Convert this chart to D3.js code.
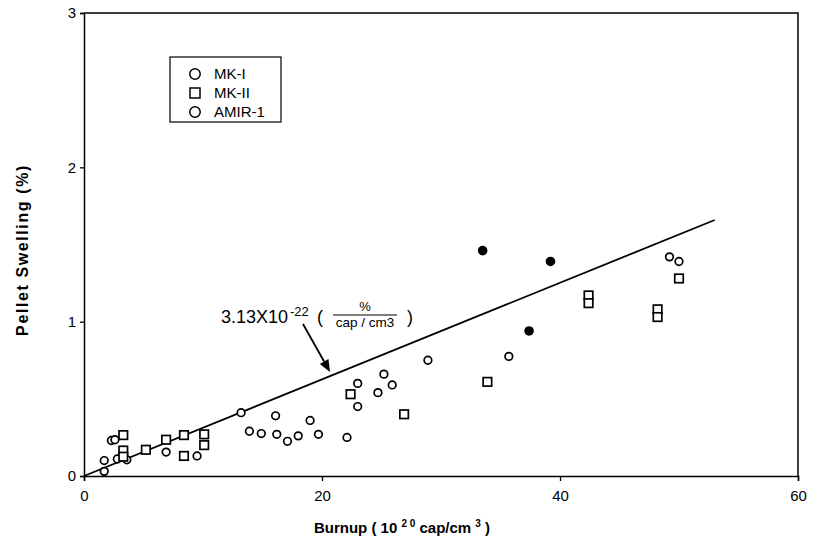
<!DOCTYPE html>
<html>
<head>
<meta charset="utf-8">
<script src="https://cdn.jsdelivr.net/npm/d3@7"></script>
<style>
  html, body { margin: 0; padding: 0; background: #fff; }
  svg { display: block; font-family: "Liberation Sans", Arial, Helvetica, sans-serif; }
</style>
</head>
<body>
<svg id="chart" width="815" height="547"></svg>
<script>
// ---- data ----
const xTicks = [0, 20, 40, 60];
const yTicks = [0, 1, 2, 3];
const legendLabels = ["MK-I", "MK-II", "AMIR-1"];

// MK-I (open circles): [burnup, swelling]
const mk1 = [
  [1.7, 0.03], [1.7, 0.10], [2.3, 0.23], [2.6, 0.235], [2.8, 0.11], [3.6, 0.105],
  [6.9, 0.155], [9.5, 0.13], [13.2, 0.41], [13.9, 0.29], [14.9, 0.275], [16.1, 0.39],
  [16.2, 0.27], [17.1, 0.225], [18.0, 0.26], [19.0, 0.36], [19.7, 0.27], [22.1, 0.25],
  [23.0, 0.60], [23.0, 0.45], [24.7, 0.54], [25.2, 0.66], [25.9, 0.59], [28.9, 0.75],
  [35.7, 0.775], [49.2, 1.42], [50.0, 1.39]
];
// MK-II (open squares)
const mk2 = [
  [3.3, 0.265], [3.3, 0.165], [3.3, 0.125], [5.2, 0.17], [6.9, 0.235], [8.4, 0.265],
  [8.4, 0.13], [10.1, 0.27], [10.1, 0.20], [22.4, 0.53], [26.9, 0.40], [33.9, 0.61],
  [42.4, 1.17], [42.4, 1.12], [48.2, 1.08], [48.2, 1.03], [50.0, 1.28]
];
// AMIR-1 (filled circles)
const amir1 = [[33.5, 1.46], [39.2, 1.39], [37.4, 0.94]];
// fit line 3.13e-22 %/(cap/cm3)
const fitX = [0, 53];
const fitY = [0, 0.0313 * 53];

// ---- layout ----
const svg = d3.select("#chart");
const x = d3.scaleLinear().domain([0, 60]).range([84, 798]);
const y = d3.scaleLinear().domain([0, 3]).range([476, 13]);

// frame (top & right)
svg.append("path")
  .attr("d", `M${x(0)},${y(3)}H${x(60)}V${y(0)}`)
  .attr("fill", "none").attr("stroke", "#000").attr("stroke-width", 1.5);

// axes
const xAxis = svg.append("g").attr("transform", `translate(0,${y(0)})`)
  .call(d3.axisBottom(x).tickValues(xTicks).tickSize(5).tickPadding(9).tickFormat(d3.format("d")));
const yAxis = svg.append("g").attr("transform", `translate(${x(0)},0)`)
  .call(d3.axisLeft(y).tickValues(yTicks).tickSize(4).tickPadding(4).tickFormat(d3.format("d")));
[xAxis, yAxis].forEach(g => {
  g.select(".domain").attr("stroke", "#000").attr("stroke-width", 1.5);
  g.selectAll(".tick line").attr("stroke", "#000").attr("stroke-width", 1.3);
  g.selectAll(".tick text").attr("fill", "#000").attr("font-size", 15)
    .attr("font-family", "'Liberation Sans', Arial, sans-serif");
});

// fit line
svg.append("line")
  .attr("x1", x(fitX[0])).attr("y1", y(fitY[0]))
  .attr("x2", x(fitX[1])).attr("y2", y(fitY[1]))
  .attr("stroke", "#000").attr("stroke-width", 1.8);

// points
const pts = svg.append("g");
pts.selectAll("circle.mk1").data(mk1).join("circle").attr("class", "mk1")
  .attr("cx", d => x(d[0])).attr("cy", d => y(d[1])).attr("r", 3.8)
  .attr("fill", "#fff").attr("stroke", "#000").attr("stroke-width", 1.7);
const s = 8.5;
pts.selectAll("rect.mk2").data(mk2).join("rect").attr("class", "mk2")
  .attr("x", d => x(d[0]) - s / 2).attr("y", d => y(d[1]) - s / 2)
  .attr("width", s).attr("height", s)
  .attr("fill", "#fff").attr("stroke", "#000").attr("stroke-width", 1.7);
pts.selectAll("circle.amir").data(amir1).join("circle").attr("class", "amir")
  .attr("cx", d => x(d[0])).attr("cy", d => y(d[1])).attr("r", 4.8)
  .attr("fill", "#000");

// legend
const lg = svg.append("g");
lg.append("rect").attr("x", 170).attr("y", 57).attr("width", 111).attr("height", 65)
  .attr("fill", "#fff").attr("stroke", "#000").attr("stroke-width", 1.2);
const rowsY = [74, 93, 112];
legendLabels.forEach((lab, i) => {
  if (i === 1) {
    lg.append("rect").attr("x", 195 - 5).attr("y", rowsY[i] - 5).attr("width", 10).attr("height", 10)
      .attr("fill", "#fff").attr("stroke", "#000").attr("stroke-width", 1.5);
  } else {
    lg.append("circle").attr("cx", 195).attr("cy", rowsY[i]).attr("r", 5.2)
      .attr("fill", "#fff").attr("stroke", "#000").attr("stroke-width", 1.5);
  }
  lg.append("text").attr("x", 214).attr("y", rowsY[i] + 5).attr("font-size", 15)
    .attr("fill", "#000").text(lab);
});

// axis titles
const xt = svg.append("text").attr("x", 402).attr("y", 533).attr("text-anchor", "middle")
  .attr("font-size", 15).attr("font-weight", "bold").attr("fill", "#000");
xt.append("tspan").text("Burnup ( 10 ");
xt.append("tspan").attr("dy", -6).attr("font-size", 10).text("2 0");
xt.append("tspan").attr("dy", 6).text(" cap/cm ");
xt.append("tspan").attr("dy", -6).attr("font-size", 10).text("3");
xt.append("tspan").attr("dy", 6).text(" )");

svg.append("text").attr("transform", "translate(28,250) rotate(-90)")
  .attr("text-anchor", "middle").attr("font-size", 16).attr("font-weight", "bold")
  .attr("letter-spacing", 1.6)
  .attr("fill", "#000").text("Pellet Swelling (%)");

// annotation
const ann = svg.append("g").attr("fill", "#000");
ann.append("text").attr("x", 221).attr("y", 323).attr("font-size", 18).text("3.13X10");
ann.append("text").attr("x", 290).attr("y", 316).attr("font-size", 13).text("-22");
ann.append("text").attr("x", 317).attr("y", 323).attr("font-size", 18).text("(");
ann.append("text").attr("x", 365).attr("y", 311).attr("font-size", 13).attr("text-anchor", "middle").text("%");
ann.append("line").attr("x1", 333).attr("x2", 397).attr("y1", 315).attr("y2", 315)
  .attr("stroke", "#000").attr("stroke-width", 1.2);
ann.append("text").attr("x", 365).attr("y", 327).attr("font-size", 13.5).attr("text-anchor", "middle").text("cap / cm3");
ann.append("text").attr("x", 407).attr("y", 323).attr("font-size", 18).text(")");

// arrow
const ax1 = 303, ay1 = 324, ax2 = 330, ay2 = 372;
const ang = Math.atan2(ay2 - ay1, ax2 - ax1);
const hl = 12, hw = 5;
const bx = ax2 - hl * Math.cos(ang), by = ay2 - hl * Math.sin(ang);
svg.append("line").attr("x1", ax1).attr("y1", ay1).attr("x2", bx).attr("y2", by)
  .attr("stroke", "#000").attr("stroke-width", 1.8);
svg.append("path")
  .attr("d", `M${ax2},${ay2}L${bx + hw * Math.sin(ang)},${by - hw * Math.cos(ang)}L${bx - hw * Math.sin(ang)},${by + hw * Math.cos(ang)}Z`)
  .attr("fill", "#000");
</script>
</body>
</html>
